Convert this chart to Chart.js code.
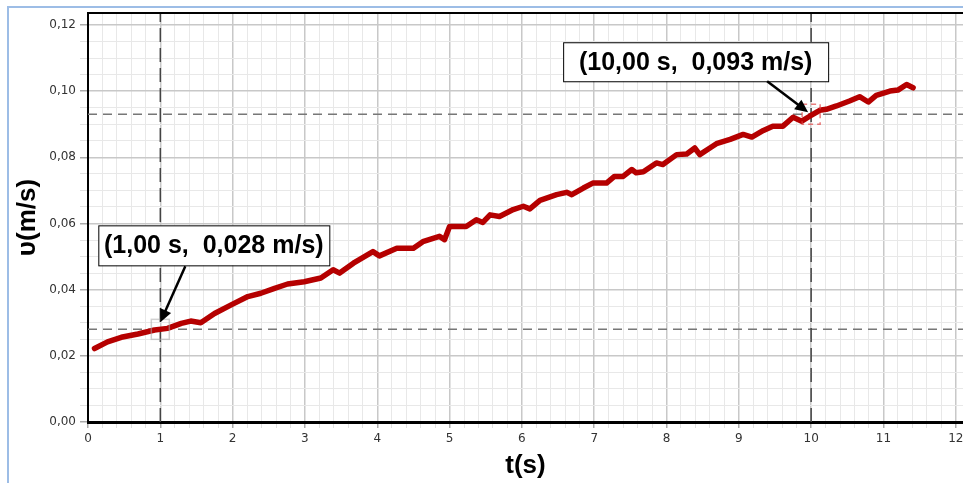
<!DOCTYPE html>
<html>
<head>
<meta charset="utf-8">
<script src="https://cdn.jsdelivr.net/npm/chart.js@4.4.1/dist/chart.umd.min.js"></script>
<style>
html, body { margin: 0; padding: 0; background: #fff; }
</style>
</head>
<body>
<canvas id="vchart" width="963" height="483"></canvas>
<script>
const times = [0.09, 0.27, 0.46, 0.69, 0.92, 1.10, 1.29, 1.42, 1.56, 1.75, 1.98, 2.21, 2.39, 2.58, 2.76, 2.99,
    3.22, 3.39, 3.48, 3.67, 3.94, 4.03, 4.27, 4.50, 4.63, 4.86, 4.93, 5.00, 5.23, 5.37, 5.46, 5.56, 5.69, 5.88,
    6.02, 6.11, 6.25, 6.48, 6.62, 6.69, 6.85, 6.98, 7.17, 7.28, 7.40, 7.52, 7.58, 7.68, 7.86, 7.95, 8.14, 8.28,
    8.39, 8.46, 8.60, 8.69, 8.88, 9.06, 9.18, 9.34, 9.47, 9.61, 9.75, 9.87, 9.98, 10.12, 10.21, 10.35, 10.53,
    10.67, 10.79, 10.90, 11.09, 11.20, 11.32, 11.41];
const speeds = [0.0222, 0.0242, 0.0256, 0.0266, 0.0278, 0.0283, 0.0298, 0.0305, 0.0300, 0.0328, 0.0354, 0.0379,
    0.0389, 0.0404, 0.0417, 0.0424, 0.0435, 0.0460, 0.0450, 0.0480, 0.0515, 0.0502, 0.0525, 0.0525, 0.0545,
    0.0561, 0.0551, 0.0591, 0.0591, 0.0611, 0.0603, 0.0626, 0.0621, 0.0642, 0.0652, 0.0644, 0.0670, 0.0687,
    0.0694, 0.0687, 0.0707, 0.0722, 0.0722, 0.0742, 0.0742, 0.0763, 0.0753, 0.0756, 0.0783, 0.0778, 0.0808,
    0.0810, 0.0828, 0.0808, 0.0828, 0.0841, 0.0854, 0.0869, 0.0861, 0.0881, 0.0894, 0.0894, 0.0921, 0.0909,
    0.0924, 0.0942, 0.0945, 0.0955, 0.0970, 0.0983, 0.0967, 0.0987, 0.1000, 0.1003, 0.1020, 0.1010];

// the two read-out points
const markTimes = [1, 10];
const markSpeeds = [0.028, 0.093];
const markLabels = ['(1,00 s,  0,028 m/s)', '(10,00 s,  0,093 m/s)'];

const xMin = 0, xMax = 12.1, yMin = 0, yMax = 0.1236;

// box / arrow placement relative to the marked point (pixels)
const notes = [
    {box: [-62, -104, 231, 40], from: [25, -63], to: [0, -7], square: 'rgba(170,170,170,0.55)'},
    {box: [-248, -72, 265, 39], from: [-44, -33], to: [-3, -2], square: 'rgba(225,70,70,0.7)'}
];

function onStep(v, s) {
    return Math.abs(v / s - Math.round(v / s)) < 1e-6;
}

const refSets = [];
markTimes.forEach((t) => {
    refSets.push({
        data: [{x: t, y: yMin}, {x: t, y: yMax}],
        borderColor: '#444', borderWidth: 1.5, borderDash: [14, 6],
        pointRadius: 0, order: 2
    });
});
markSpeeds.forEach((v) => {
    refSets.push({
        data: [{x: xMin, y: v}, {x: xMax, y: v}],
        borderColor: '#777', borderWidth: 1.5, borderDash: [9, 6],
        pointRadius: 0, order: 2
    });
});

const decor = {
    id: 'decor',
    afterDatasetsDraw(chart) {
        const {ctx, scales: {x, y}} = chart;
        ctx.save();
        markTimes.forEach((t, i) => {
            const px = x.getPixelForValue(t), py = y.getPixelForValue(markSpeeds[i]);
            ctx.strokeStyle = notes[i].square;
            ctx.lineWidth = 1.5;
            ctx.setLineDash(i ? [5, 4] : []);
            ctx.strokeRect(px - 9, py - 10, 18, 20);
        });
        ctx.restore();
    },
    afterDraw(chart) {
        const {ctx, chartArea, scales: {x, y}} = chart;
        ctx.save();
        // outer window frame
        ctx.strokeStyle = '#9dbde6';
        ctx.lineWidth = 2;
        ctx.beginPath();
        ctx.moveTo(8, 483);
        ctx.lineTo(8, 7);
        ctx.lineTo(963, 7);
        ctx.stroke();
        // top border of the plot
        ctx.strokeStyle = '#000';
        ctx.lineWidth = 2;
        ctx.beginPath();
        ctx.moveTo(chartArea.left, chartArea.top);
        ctx.lineTo(chartArea.right, chartArea.top);
        ctx.stroke();

        markTimes.forEach((t, i) => {
            const px = x.getPixelForValue(t), py = y.getPixelForValue(markSpeeds[i]);
            const n = notes[i];
            const bx = px + n.box[0], by = py + n.box[1];
            ctx.fillStyle = '#fff';
            ctx.fillRect(bx, by, n.box[2], n.box[3]);
            ctx.strokeStyle = '#000';
            ctx.lineWidth = 1;
            ctx.strokeRect(bx + 0.5, by + 0.5, n.box[2], n.box[3]);
            ctx.fillStyle = '#000';
            ctx.font = 'bold 25px "Liberation Sans", Arial, sans-serif';
            ctx.textAlign = 'center';
            ctx.textBaseline = 'middle';
            ctx.fillText(markLabels[i], bx + n.box[2] / 2, by + n.box[3] / 2 + 1);

            // arrow
            const x0 = px + n.from[0], y0 = py + n.from[1];
            const x1 = px + n.to[0], y1 = py + n.to[1];
            const ang = Math.atan2(y1 - y0, x1 - x0);
            const hl = 13, hw = 6;
            ctx.lineWidth = 2.5;
            ctx.beginPath();
            ctx.moveTo(x0, y0);
            ctx.lineTo(x1 - Math.cos(ang) * hl * 0.8, y1 - Math.sin(ang) * hl * 0.8);
            ctx.stroke();
            ctx.beginPath();
            ctx.moveTo(x1, y1);
            ctx.lineTo(x1 - Math.cos(ang) * hl + Math.sin(ang) * hw, y1 - Math.sin(ang) * hl - Math.cos(ang) * hw);
            ctx.lineTo(x1 - Math.cos(ang) * hl - Math.sin(ang) * hw, y1 - Math.sin(ang) * hl + Math.cos(ang) * hw);
            ctx.closePath();
            ctx.fill();
        });
        ctx.restore();
    }
};

const tickFont = {family: '"DejaVu Sans", sans-serif', size: 12};
const titleFont = {family: '"Liberation Sans", Arial, sans-serif', size: 26, weight: 'bold'};

const ctx = document.getElementById('vchart').getContext('2d');
const vchart = new Chart(ctx, {
    type: 'line',
    data: {
        datasets: [{
            data: times.map((t, i) => ({x: t, y: speeds[i]})),
            borderColor: '#b50000',
            borderWidth: 5.5,
            borderJoinStyle: 'round',
            borderCapStyle: 'round',
            pointRadius: 0,
            tension: 0,
            order: 1
        }].concat(refSets)
    },
    options: {
        responsive: false,
        animation: false,
        layout: {padding: {top: 13, right: 0, bottom: 0, left: 0}},
        plugins: {legend: {display: false}, tooltip: {enabled: false}},
        scales: {
            x: {
                type: 'linear',
                min: xMin,
                max: xMax,
                afterFit(s) { s.height = 61; s.paddingRight = 0; s.paddingLeft = 0; },
                border: {color: '#000', width: 3},
                grid: {
                    color: (c) => onStep(c.tick.value, 1) ? '#c8c8c8' : '#e8e8e8',
                    lineWidth: (c) => onStep(c.tick.value, 1) ? 1.5 : 1,
                    tickColor: (c) => onStep(c.tick.value, 1) ? '#aaa' : '#e0e0e0',
                    tickLength: 6
                },
                ticks: {
                    stepSize: 0.2,
                    autoSkip: false,
                    includeBounds: false,
                    maxRotation: 0,
                    padding: 4,
                    color: '#333',
                    font: tickFont,
                    callback: (v) => onStep(v, 1) ? String(Math.round(v)) : ''
                },
                title: {display: true, text: 't(s)', color: '#000', font: titleFont, padding: {top: 0, bottom: 2}}
            },
            y: {
                min: yMin,
                max: yMax,
                afterFit(s) { s.width = 88; },
                border: {color: '#000', width: 2},
                grid: {
                    color: (c) => onStep(c.tick.value, 0.02) ? '#c8c8c8' : '#e8e8e8',
                    lineWidth: (c) => onStep(c.tick.value, 0.02) ? 1.5 : 1,
                    tickColor: (c) => onStep(c.tick.value, 0.02) ? '#aaa' : '#e0e0e0',
                    tickLength: 8
                },
                ticks: {
                    stepSize: 0.005,
                    autoSkip: false,
                    includeBounds: false,
                    padding: 4,
                    color: '#333',
                    font: tickFont,
                    callback: (v) => onStep(v, 0.02) ? v.toFixed(2).replace('.', ',') : ''
                },
                title: {display: true, text: 'υ(m/s)', color: '#000', font: titleFont, padding: {top: 12, bottom: 0}}
            }
        }
    },
    plugins: [decor]
});
</script>
</body>
</html>
